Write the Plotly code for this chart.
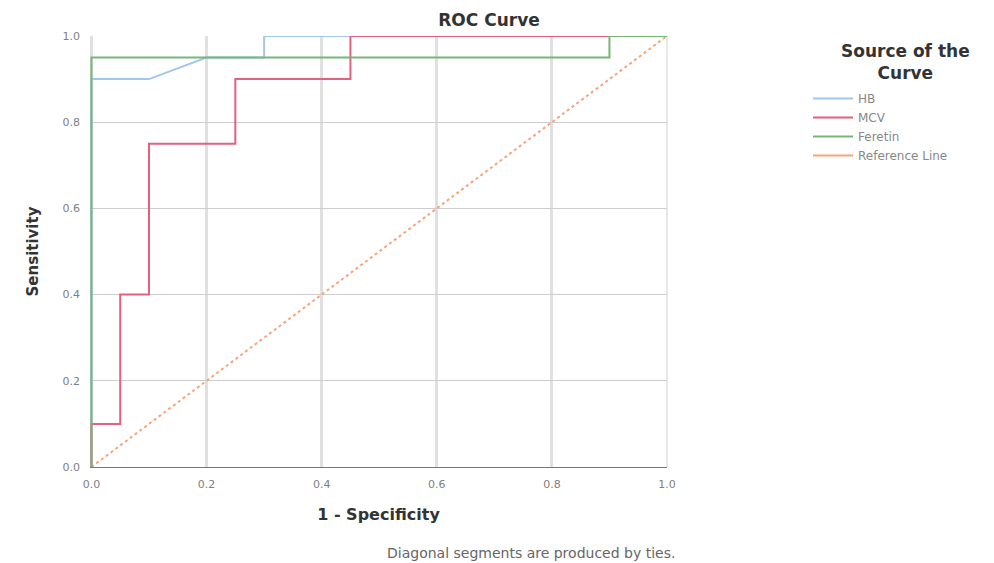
import plotly.graph_objects as go

# Data
hb_x = [0.0, 0.0, 0.1, 0.2, 0.3, 0.3, 1.0]
hb_y = [0.0, 0.9, 0.9, 0.95, 0.95, 1.0, 1.0]

mcv_x = [0.0, 0.0, 0.05, 0.05, 0.1, 0.1, 0.25, 0.25, 0.45, 0.45, 1.0]
mcv_y = [0.0, 0.1, 0.1, 0.4, 0.4, 0.75, 0.75, 0.9, 0.9, 1.0, 1.0]

fer_x = [0.0, 0.0, 0.9, 0.9, 1.0]
fer_y = [0.0, 0.95, 0.95, 1.0, 1.0]

ref_x = [0.0, 1.0]
ref_y = [0.0, 1.0]

tick_vals = [0.0, 0.2, 0.4, 0.6, 0.8, 1.0]
tick_text = ["0.0", "0.2", "0.4", "0.6", "0.8", "1.0"]

FONT = "DejaVu Sans, Verdana, sans-serif"
L, T, PW, PH = 90, 36, 577, 431

fig = go.Figure()
fig.add_trace(go.Scatter(x=ref_x, y=ref_y, mode="lines", name="Reference Line",
                         line=dict(color="#f7a47c", width=2, dash="dot"), showlegend=False))
fig.add_trace(go.Scatter(x=hb_x, y=hb_y, mode="lines", name="HB",
                         line=dict(color="#a3c6ef", width=2)))
fig.add_trace(go.Scatter(x=mcv_x, y=mcv_y, mode="lines", name="MCV",
                         line=dict(color="#e4607f", width=2)))
fig.add_trace(go.Scatter(x=fer_x, y=fer_y, mode="lines", name="Feretin",
                         line=dict(color="#78b678", width=2)))
fig.add_trace(go.Scatter(x=[None], y=[None], mode="lines", name="Reference Line",
                         line=dict(color="#f7a47c", width=2)))

fig.update_layout(
    width=994, height=563,
    margin=dict(l=L, r=994 - L - PW, t=T, b=563 - T - PH),
    paper_bgcolor="white", plot_bgcolor="white",
    font=dict(family=FONT, color="#555555"),
    title=dict(text="<b>ROC Curve</b>", x=489 / 994, xanchor="center", xref="container",
               y=1 - 20 / 563, yanchor="middle", yref="container",
               font=dict(size=17, color="#333333")),
    legend=dict(
        x=(808 - L) / PW, xanchor="left", y=1 + (T - 84) / PH, yanchor="top",
        font=dict(size=12, color="#888888"),
        bgcolor="rgba(0,0,0,0)",
        itemwidth=40, tracegroupgap=0,
    ),
    xaxis=dict(
        range=[-0.0025, 1.0], tickvals=tick_vals, ticktext=tick_text,
        showgrid=True, gridcolor="#e0e0e0", gridwidth=3,
        zeroline=False, showline=True, linecolor="#777777", linewidth=1,
        layer="below traces", ticklabelstandoff=7,
        tickfont=dict(size=11, color="#808080"),
        title=dict(text="<b>1 - Specificity</b>", font=dict(size=16, color="#333333"), standoff=18),
        fixedrange=True,
    ),
    yaxis=dict(
        range=[0, 1], tickvals=tick_vals, ticktext=tick_text,
        showgrid=True, gridcolor="#cdcdcd", gridwidth=1,
        zeroline=False, showline=False,
        layer="below traces", ticklabelstandoff=9,
        tickfont=dict(size=11, color="#808080"),
        title=dict(text="<b>Sensitivity</b>", font=dict(size=15, color="#333333"), standoff=20),
        fixedrange=True,
    ),
    annotations=[
        dict(text="<b>Source of the<br>Curve</b>", xref="paper", yref="paper",
             x=(905 - L) / PW, y=1 + (T - 62) / PH, xanchor="center", yanchor="middle",
             showarrow=False, align="center",
             font=dict(size=17, color="#333333")),
        dict(text="Diagonal segments are produced by ties.", xref="paper", yref="paper",
             x=(677 - L) / PW, y=-(553 - T - PH) / PH, xanchor="right", yanchor="middle",
             showarrow=False, font=dict(size=14, color="#666666")),
    ],
    shapes=[
        dict(type="line", xref="paper", yref="paper", x0=1, x1=1, y0=0, y1=1,
             line=dict(color="#d0d0d0", width=1), layer="below"),
        dict(type="line", xref="x", yref="paper", x0=0, x1=0, y0=0, y1=1,
             line=dict(color="#999999", width=1), layer="below"),
    ],
)

fig.write_html("out.html")
